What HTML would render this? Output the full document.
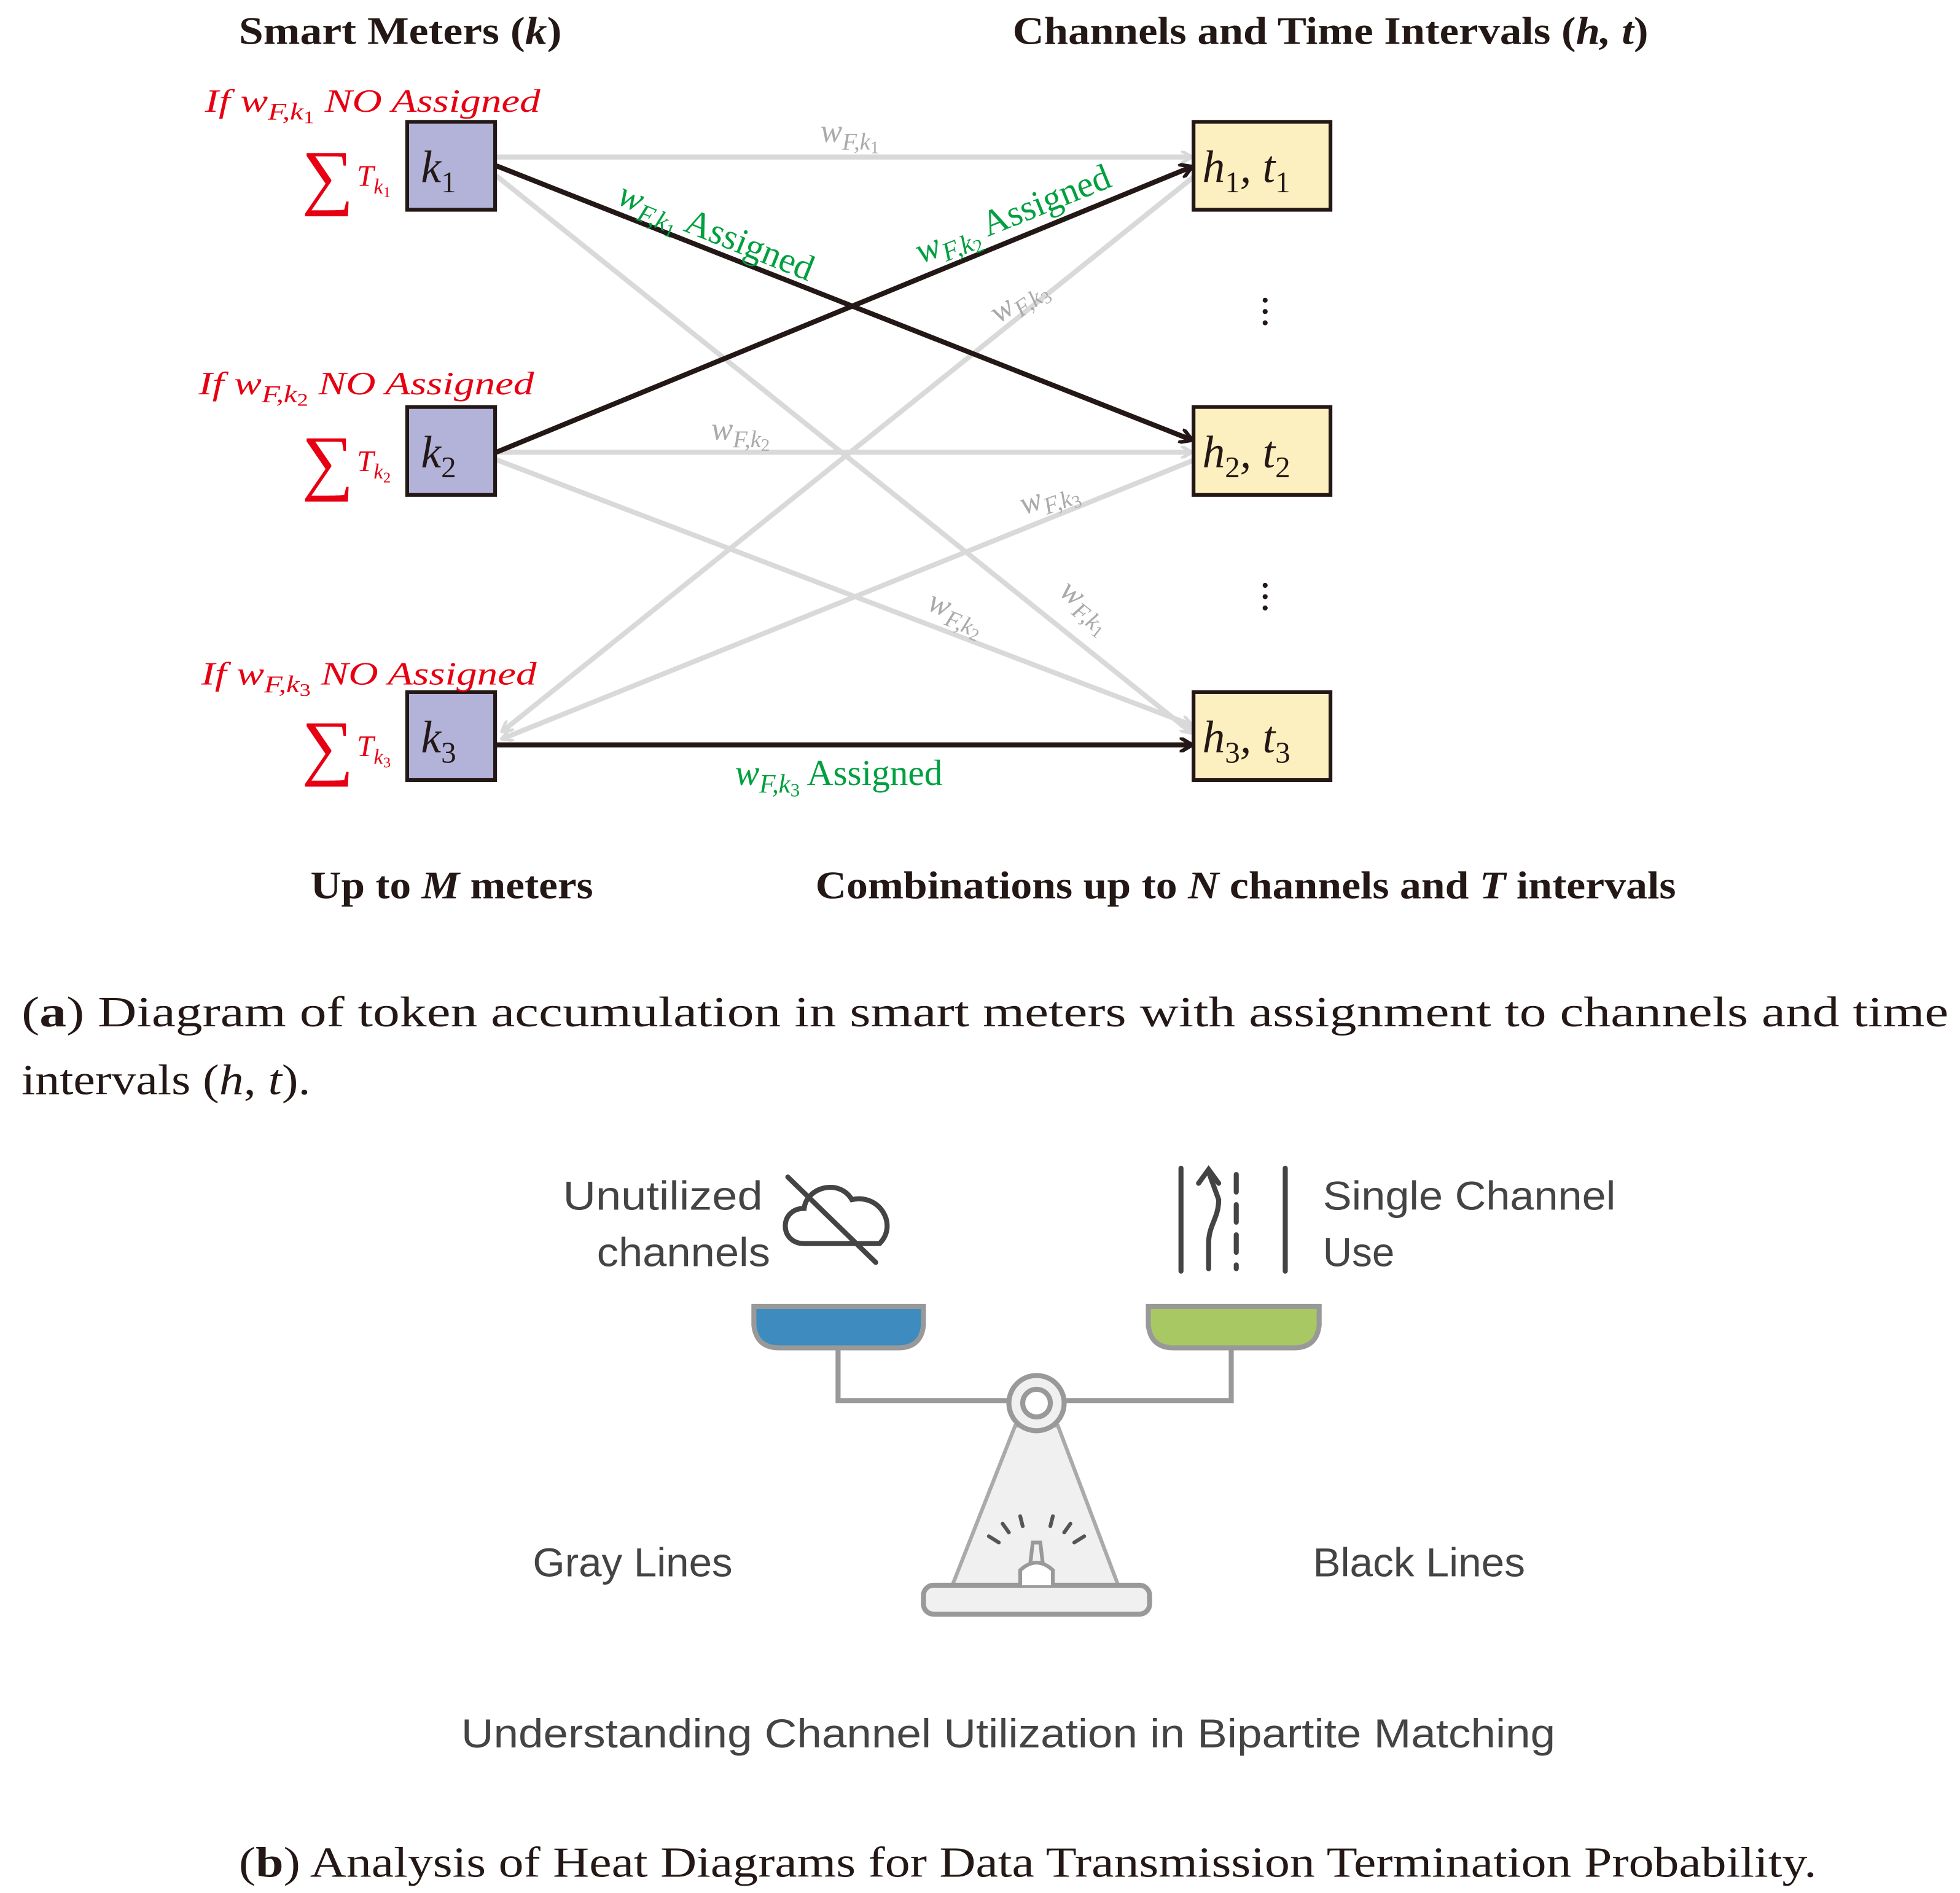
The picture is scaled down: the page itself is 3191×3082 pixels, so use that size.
<!DOCTYPE html>
<html><head><meta charset="utf-8"><style>
html,body{margin:0;padding:0;background:#fff}
svg{display:block}
.s{font-family:"Liberation Serif",serif}
.a{font-family:"Liberation Sans","DejaVu Sans",sans-serif;fill:#444}
</style></head><body>
<svg width="3191" height="3082" viewBox="0 0 1560 1507" xmlns="http://www.w3.org/2000/svg">
<defs>
<marker id="ag" markerWidth="10" markerHeight="10" refX="8" refY="5" orient="auto" markerUnits="userSpaceOnUse" viewBox="0 0 10 10"><path d="M0,0 L9,5 L0,10" fill="none" stroke="#d9d9d9" stroke-width="2.5"/></marker>
<marker id="ab" markerWidth="12" markerHeight="12" refX="9" refY="6" orient="auto" markerUnits="userSpaceOnUse" viewBox="0 0 12 12"><path d="M0,0 L10,6 L0,12" fill="none" stroke="#231815" stroke-width="3"/></marker>
</defs>
<g class="s" font-weight="bold" font-size="31" fill="#231815">
<text x="190" y="35" textLength="257" lengthAdjust="spacingAndGlyphs">Smart Meters (<tspan font-style="italic">k</tspan>)</text>
<text x="806" y="35" textLength="506" lengthAdjust="spacingAndGlyphs">Channels and Time Intervals (<tspan font-style="italic">h, t</tspan>)</text>
<text x="247" y="715" textLength="225" lengthAdjust="spacingAndGlyphs">Up to <tspan font-style="italic">M</tspan> meters</text>
<text x="649" y="715" textLength="685" lengthAdjust="spacingAndGlyphs">Combinations up to <tspan font-style="italic">N</tspan> channels and <tspan font-style="italic">T</tspan> intervals</text>
</g>
<g stroke="#d9d9d9" stroke-width="4" fill="none">
<line x1="395" y1="125" x2="948" y2="125" marker-end="url(#ag)"/>
<line x1="395" y1="140" x2="948" y2="583" marker-end="url(#ag)"/>
<line x1="395" y1="360" x2="948" y2="360" marker-end="url(#ag)"/>
<line x1="395" y1="366" x2="948" y2="577" marker-end="url(#ag)"/>
<line x1="951" y1="140" x2="400" y2="582" marker-end="url(#ag)"/>
<line x1="951" y1="366" x2="400" y2="588" marker-end="url(#ag)"/>
</g>
<g stroke="#231815" stroke-width="4" fill="none">
<line x1="395" y1="132" x2="948" y2="350" marker-end="url(#ab)"/>
<line x1="395" y1="360" x2="948" y2="133" marker-end="url(#ab)"/>
<line x1="395" y1="593" x2="948" y2="593" marker-end="url(#ab)"/>
</g>
<g stroke="#231815" stroke-width="3">
<rect x="324" y="97" width="70" height="70" fill="#b3b3d9"/>
<rect x="324" y="324" width="70" height="70" fill="#b3b3d9"/>
<rect x="324" y="551" width="70" height="70" fill="#b3b3d9"/>
<rect x="950" y="97" width="109" height="70" fill="#fdf0c0"/>
<rect x="950" y="324" width="109" height="70" fill="#fdf0c0"/>
<rect x="950" y="551" width="109" height="70" fill="#fdf0c0"/>
</g>
<g class="s" font-style="italic" font-size="36" fill="#231815">
<text x="335" y="145">k<tspan font-size="24" dy="8" font-style="normal">1</tspan></text>
<text x="335" y="372">k<tspan font-size="24" dy="8" font-style="normal">2</tspan></text>
<text x="335" y="599">k<tspan font-size="24" dy="8" font-style="normal">3</tspan></text>
<text x="957" y="145">h<tspan font-size="24" dy="8" font-style="normal">1</tspan><tspan dy="-8">, t</tspan><tspan font-size="24" dy="8" font-style="normal">1</tspan></text>
<text x="957" y="372">h<tspan font-size="24" dy="8" font-style="normal">2</tspan><tspan dy="-8">, t</tspan><tspan font-size="24" dy="8" font-style="normal">2</tspan></text>
<text x="957" y="599">h<tspan font-size="24" dy="8" font-style="normal">3</tspan><tspan dy="-8">, t</tspan><tspan font-size="24" dy="8" font-style="normal">3</tspan></text>
</g>
<g class="s" font-style="italic" fill="#e60012">
<text x="163" y="89" font-size="26" textLength="267" lengthAdjust="spacingAndGlyphs">If w<tspan font-size="19" dy="6">F,k</tspan><tspan font-size="14" dy="3" font-style="normal">1</tspan><tspan dy="-9"> NO Assigned</tspan></text>
<text x="158" y="314" font-size="26" textLength="267" lengthAdjust="spacingAndGlyphs">If w<tspan font-size="19" dy="6">F,k</tspan><tspan font-size="14" dy="3" font-style="normal">2</tspan><tspan dy="-9"> NO Assigned</tspan></text>
<text x="160" y="545" font-size="26" textLength="267" lengthAdjust="spacingAndGlyphs">If w<tspan font-size="19" dy="6">F,k</tspan><tspan font-size="14" dy="3" font-style="normal">3</tspan><tspan dy="-9"> NO Assigned</tspan></text>
<text x="240" y="160" font-size="58" font-style="normal">∑</text>
<text x="240" y="387" font-size="58" font-style="normal">∑</text>
<text x="240" y="614" font-size="58" font-style="normal">∑</text>
<text x="284" y="148" font-size="24">T<tspan font-size="17" dy="6">k</tspan><tspan font-size="12" dy="3" font-style="normal">1</tspan></text>
<text x="284" y="375" font-size="24">T<tspan font-size="17" dy="6">k</tspan><tspan font-size="12" dy="3" font-style="normal">2</tspan></text>
<text x="284" y="602" font-size="24">T<tspan font-size="17" dy="6">k</tspan><tspan font-size="12" dy="3" font-style="normal">3</tspan></text>
</g>
<g class="s" font-style="italic" fill="#aaa" font-size="26">
<text x="653" y="113">w<tspan font-size="19" dy="6">F,k</tspan><tspan font-size="14" dy="3" font-style="normal">1</tspan></text>
<text x="566" y="350">w<tspan font-size="19" dy="6">F,k</tspan><tspan font-size="14" dy="3" font-style="normal">2</tspan></text>
<text transform="translate(795,258) rotate(-35)">w<tspan font-size="19" dy="6">F,k</tspan><tspan font-size="14" dy="3" font-style="normal">3</tspan></text>
<text transform="translate(815,410) rotate(-20)">w<tspan font-size="19" dy="6">F,k</tspan><tspan font-size="14" dy="3" font-style="normal">3</tspan></text>
<text transform="translate(737,485) rotate(22)">w<tspan font-size="19" dy="6">F,k</tspan><tspan font-size="14" dy="3" font-style="normal">2</tspan></text>
<text transform="translate(842,473) rotate(38)">w<tspan font-size="19" dy="6">F,k</tspan><tspan font-size="14" dy="3" font-style="normal">1</tspan></text>
</g>
<g class="s" fill="#00a040" font-size="29">
<text transform="translate(490,162) rotate(22)"><tspan font-style="italic">w</tspan><tspan font-size="21" dy="6" font-style="italic">F,k</tspan><tspan font-size="15" dy="3">1</tspan><tspan dy="-9"> Assigned</tspan></text>
<text transform="translate(733,210) rotate(-22)"><tspan font-style="italic">w</tspan><tspan font-size="21" dy="6" font-style="italic">F,k</tspan><tspan font-size="15" dy="3">2</tspan><tspan dy="-9"> Assigned</tspan></text>
<text x="585" y="625"><tspan font-style="italic">w</tspan><tspan font-size="21" dy="6" font-style="italic">F,k</tspan><tspan font-size="15" dy="3">3</tspan><tspan dy="-9"> Assigned</tspan></text>
</g>
<g fill="#231815"><circle cx="1007" cy="239" r="2"/><circle cx="1007" cy="248" r="2"/><circle cx="1007" cy="257" r="2"/>
<circle cx="1007" cy="466" r="2"/><circle cx="1007" cy="475" r="2"/><circle cx="1007" cy="484" r="2"/></g>
<g class="s" font-size="34" fill="#231815">
<text x="17" y="817" textLength="1534" lengthAdjust="spacingAndGlyphs">(<tspan font-weight="bold">a</tspan>) Diagram of token accumulation in smart meters with assignment to channels and time</text>
<text x="17" y="871" textLength="230" lengthAdjust="spacingAndGlyphs">intervals (<tspan font-style="italic">h</tspan>, <tspan font-style="italic">t</tspan>).</text>
<text x="190" y="1494" textLength="1256" lengthAdjust="spacingAndGlyphs">(<tspan font-weight="bold">b</tspan>) Analysis of Heat Diagrams for Data Transmission Termination Probability.</text>
</g>
<g class="a" font-size="32">
<text x="448" y="963" textLength="159" lengthAdjust="spacingAndGlyphs">Unutilized</text>
<text x="475" y="1008" textLength="138" lengthAdjust="spacingAndGlyphs">channels</text>
<text x="1053" y="963" textLength="233" lengthAdjust="spacingAndGlyphs">Single Channel</text>
<text x="1053" y="1008" textLength="57" lengthAdjust="spacingAndGlyphs">Use</text>
<text x="424" y="1255" textLength="159" lengthAdjust="spacingAndGlyphs">Gray Lines</text>
<text x="1045" y="1255" textLength="169" lengthAdjust="spacingAndGlyphs">Black Lines</text>
<text x="367" y="1391" textLength="871" lengthAdjust="spacingAndGlyphs">Understanding Channel Utilization in Bipartite Matching</text>
</g>
<g fill="none" stroke="#444" stroke-width="4" stroke-linecap="round">
<path d="M640,990 C620,990 620,962 640,962 C642,945 668,938 678,955 C700,950 715,975 700,990 Z"/>
<line x1="627" y1="937" x2="697" y2="1005"/>
<line x1="940" y1="930" x2="940" y2="1012"/>
<line x1="1023" y1="930" x2="1023" y2="1012"/>
<line x1="984" y1="935" x2="984" y2="1010" stroke-dasharray="14,10"/>
<path d="M962,1010 L962,990 C962,975 970,970 970,955 L962,933"/>
<path d="M954,942 L962,931 L970,942"/>
</g>
<g stroke="#999" stroke-width="4">
<path d="M667,1073 L667,1115 L980,1115 L980,1073" fill="none"/>
<path d="M600,1040 L735,1040 L735,1055 Q733,1073 715,1073 L620,1073 Q602,1073 600,1055 Z" fill="#3d8bbf"/>
<path d="M914,1040 L1050,1040 L1050,1055 Q1048,1073 1030,1073 L934,1073 Q916,1073 914,1055 Z" fill="#a8c864"/>
<path d="M808,1135 L842,1135 L890,1262 L758,1262 Z" fill="#f0f0f0" stroke="#aaa" stroke-width="3"/>
<circle cx="825" cy="1117" r="22" fill="#f0f0f0"/>
<circle cx="825" cy="1117" r="11" fill="#fff"/>
<rect x="735" y="1262" width="180" height="23" rx="8" fill="#f0f0f0"/>
<path d="M812,1262 L812,1250 Q825,1238 838,1250 L838,1262" fill="#fff" stroke-width="3"/>
<path d="M820,1245 L822,1228 L828,1228 L830,1245" fill="none" stroke-width="3"/>
</g>
<g stroke="#555" stroke-width="3" stroke-linecap="round">
<line x1="787" y1="1223" x2="795" y2="1228"/><line x1="798" y1="1213" x2="803" y2="1220"/>
<line x1="812" y1="1207" x2="814" y2="1215"/><line x1="838" y1="1207" x2="836" y2="1215"/>
<line x1="852" y1="1213" x2="847" y2="1220"/><line x1="863" y1="1223" x2="855" y2="1228"/>
</g>
</svg>
</body></html>
